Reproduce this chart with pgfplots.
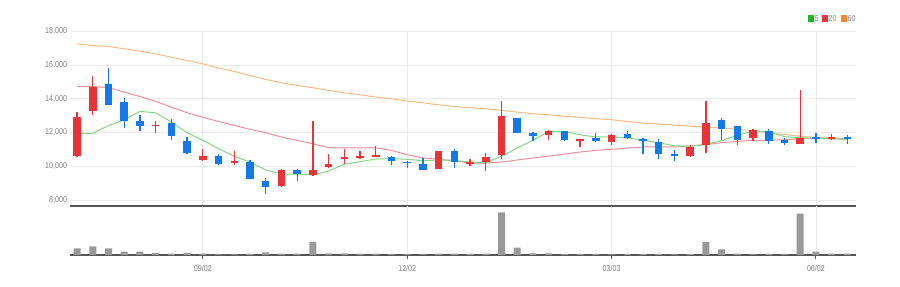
\documentclass[border=0pt]{standalone}
\usepackage{fontspec}
\setmainfont{Liberation Sans}[FakeStretch=0.84]
\usepackage{pgfplots}
\usepackage{pgfplotstable}
\usetikzlibrary{calc}
\pgfplotsset{compat=1.18}
\definecolor{upred}{HTML}{E63439}
\definecolor{downblue}{HTML}{1479E8}
\definecolor{mafive}{HTML}{86D486}
\definecolor{matwenty}{HTML}{F0909A}
\definecolor{masixty}{HTML}{F6BC88}
\definecolor{gridgray}{HTML}{EBEBEB}
\definecolor{labgray}{HTML}{808080}
\definecolor{axisgray}{HTML}{555555}
\definecolor{volgray}{HTML}{999999}
\definecolor{legfive}{HTML}{22B422}
\definecolor{legtwenty}{HTML}{E8383D}
\definecolor{legsixty}{HTML}{F08C28}

\pgfplotstableread{
x o h l c
0 10600 13200 10550 12900
1 13250 15370 13050 14720
5 12400 12660 11970 12450
8 10380 11050 10340 10630
10 10180 10890 10100 10300
13 8850 9850 8790 9810
15 9480 12660 9440 9790
16 9970 10730 9930 10140
17 10420 11050 10160 10580
18 10520 10890 10420 10600
19 10610 11190 10610 10670
23 9850 10910 9850 10910
25 10180 10460 10000 10260
26 10280 10810 9710 10580
27 10650 13880 10420 12970
30 11830 12130 11540 12090
32 11560 11620 11170 11620
34 11440 11910 11280 11870
39 10620 11280 10560 11170
40 11240 13880 10770 12560
43 11700 12190 11500 12130
46 11340 14530 11340 11660
48 11620 11930 11540 11700
}\uptable

\pgfplotstableread{
x o h l c
2 14860 15800 13600 13600
3 13800 14060 12270 12700
4 12700 13050 12070 12380
6 12580 12820 11540 11780
7 11500 11740 10730 10770
9 10600 10730 10080 10120
11 10260 10360 9240 9280
12 9140 9290 8400 8760
14 9790 9870 9140 9570
20 10580 10620 10100 10320
21 10280 10320 9930 10200
22 10120 10500 9770 9810
24 10890 11050 9910 10260
28 12860 12860 11990 11990
29 11950 12030 11480 11790
31 12070 12110 11520 11560
33 11680 11990 11460 11480
35 11890 12070 11600 11660
36 11620 11680 10750 11540
37 11440 11640 10420 10750
38 10710 10970 10300 10650
41 12760 12860 11540 12190
42 12370 12370 11240 11540
44 12090 12230 11340 11500
45 11580 11680 11280 11360
47 11720 11990 11380 11640
49 11700 11870 11340 11620
}\downtable

\pgfplotstableread{
x ma5 ma20 ma60
0 11950 14720 17240
1 11950 14720 17140
2 12420 14660 17080
3 12760 14390 16950
4 13250 14130 16810
5 13170 13840 16650
6 12620 13500 16450
7 11990 13170 16260
8 11540 12900 16060
9 11050 12660 15810
10 10600 12420 15610
11 10260 12190 15370
12 9790 11990 15140
13 9550 11740 14940
14 9550 11540 14780
15 9500 11340 14650
16 9730 11110 14490
17 10130 11090 14350
18 10280 11090 14230
19 10440 11090 14100
20 10460 10950 14000
21 10420 10690 13860
22 10340 10500 13760
23 10380 10420 13640
24 10360 10330 13540
25 10260 10200 13470
26 10220 10200 13410
27 10600 10260 13310
28 11090 10380 13210
29 11540 10500 13110
30 12070 10610 13050
31 12070 10730 12970
32 11870 10850 12900
33 11740 10950 12820
34 11740 11010 12760
35 11700 11090 12660
36 11540 11150 12560
37 11400 11150 12500
38 11220 11150 12440
39 11190 11200 12380
40 11300 11300 12330
41 11520 11400 12270
42 11840 11480 12190
43 12090 11540 12110
44 12040 11540 11990
45 11760 11580 11890
46 11700 11640 11780
47 11670 11640 11720
48 11640 11630 11660
49 11600 11620 11620
}\matable

\pgfplotstableread{
x v
0 20
1 26
2 20
3 10
4 10
5 6
6 4
7 6
8 4
9 2
10 2
11 3
12 8
13 4
14 4
15 38
16 5
17 5
18 4
19 4
20 2
21 2
22 2
23 4
24 4
25 3
26 4
27 127
28 22
29 5
30 5
31 3
32 3
33 3
34 2
35 3
36 3
37 3
38 2
39 3
40 38
41 17
42 4
43 2
44 3
45 2
46 123
47 10
48 4
49 4
}\voltable

\begin{document}
\begin{tikzpicture}[x=1bp,y=1bp]
% price panel
\begin{axis}[
  name=price, scale only axis,
  width=786bp, height=175bp,
  xmin=-0.45, xmax=49.55, ymin=7663, ymax=18000,
  axis x line*=bottom, axis y line*=left,
  x axis line style={line width=2bp, color=axisgray},
  y axis line style={draw=none},
  tick style={draw=none},
  xtick={8,21,34,47}, xticklabels={},
  ytick={8000,10000,12000,14000,16000,18000},
  scaled y ticks=false,
  /pgf/number format/.cd, 1000 sep={,}, assume math mode=true,
  /pgfplots/.cd,
  yticklabel style={font=\fontsize{8.5}{9}\selectfont, text=labgray, xshift=0.5bp},
  xmajorgrids, ymajorgrids,
  grid style={color=gridgray, line width=0.7bp},
]
\addplot[masixty, line width=1bp, mark=none] table[x=x, y=ma60] \matable;
\addplot[matwenty, line width=1bp, mark=none] table[x=x, y=ma20] \matable;
\addplot[mafive, line width=1bp, mark=none] table[x=x, y=ma5] \matable;
% wicks
\addplot[draw=none, mark=none, forget plot,
  error bars/.cd, y dir=both, y explicit, error mark=none,
  error bar style={line width=1.3bp, draw=upred}]
  table[x=x, y expr={(\thisrow{h}+\thisrow{l})/2}, y error expr={(\thisrow{h}-\thisrow{l})/2}] \uptable;
\addplot[draw=none, mark=none, forget plot,
  error bars/.cd, y dir=both, y explicit, error mark=none,
  error bar style={line width=1.3bp, draw=downblue}]
  table[x=x, y expr={(\thisrow{h}+\thisrow{l})/2}, y error expr={(\thisrow{h}-\thisrow{l})/2}] \downtable;
% bodies
\addplot[draw=none, mark=none, forget plot,
  error bars/.cd, y dir=both, y explicit, error mark=none,
  error bar style={line width=7.5bp, draw=upred}]
  table[x=x, y expr={(\thisrow{o}+\thisrow{c})/2}, y error expr={max(abs(\thisrow{c}-\thisrow{o})/2,50)}] \uptable;
\addplot[draw=none, mark=none, forget plot,
  error bars/.cd, y dir=both, y explicit, error mark=none,
  error bar style={line width=7.5bp, draw=downblue}]
  table[x=x, y expr={(\thisrow{o}+\thisrow{c})/2}, y error expr={max(abs(\thisrow{c}-\thisrow{o})/2,50)}] \downtable;
\coordinate (pll) at (rel axis cs:0,0);
\end{axis}
% volume panel
\begin{axis}[
  name=vol, at={(pll)}, anchor=north west, scale only axis,
  width=786bp, height=49bp,
  xmin=-0.45, xmax=49.55, ymin=0, ymax=146,
  axis x line*=bottom, axis y line=none,
  x axis line style={line width=1.5bp, color=axisgray},
  ytick=\empty,
  xtick={8,21,34,47}, xticklabels={09/02,12/02,03/03,06/02},
  tick align=outside, major tick length=3.5bp,
  xtick style={draw=axisgray, line width=1bp},
  xticklabel style={font=\fontsize{8.5}{9}\selectfont, text=labgray, yshift=-3bp},
  xmajorgrids, grid style={color=gridgray, line width=0.7bp},
]
\addplot[ybar, bar width=7bp, fill=volgray, draw=none] table[x=x, y=v] \voltable;
\end{axis}
% legend, placed relative to the price axis corner
\begin{scope}[shift={(pll)}, shift={(-70,-80)}]
\fill[legfive] (808,264) rectangle (813.5,271);
\node[anchor=west, inner sep=0, text=labgray, font=\fontsize{8.5}{9}\selectfont] at (814.5,267.5) {5};
\fill[legtwenty] (822,264) rectangle (827.5,271);
\node[anchor=west, inner sep=0, text=labgray, font=\fontsize{8.5}{9}\selectfont] at (828.5,267.5) {20};
\fill[legsixty] (841,264) rectangle (846.5,271);
\node[anchor=west, inner sep=0, text=labgray, font=\fontsize{8.5}{9}\selectfont] at (847.5,267.5) {60};
\end{scope}
\path[use as bounding box] ($(pll)+(-70,-80)$) rectangle +(900,286);
\end{tikzpicture}
\end{document}
